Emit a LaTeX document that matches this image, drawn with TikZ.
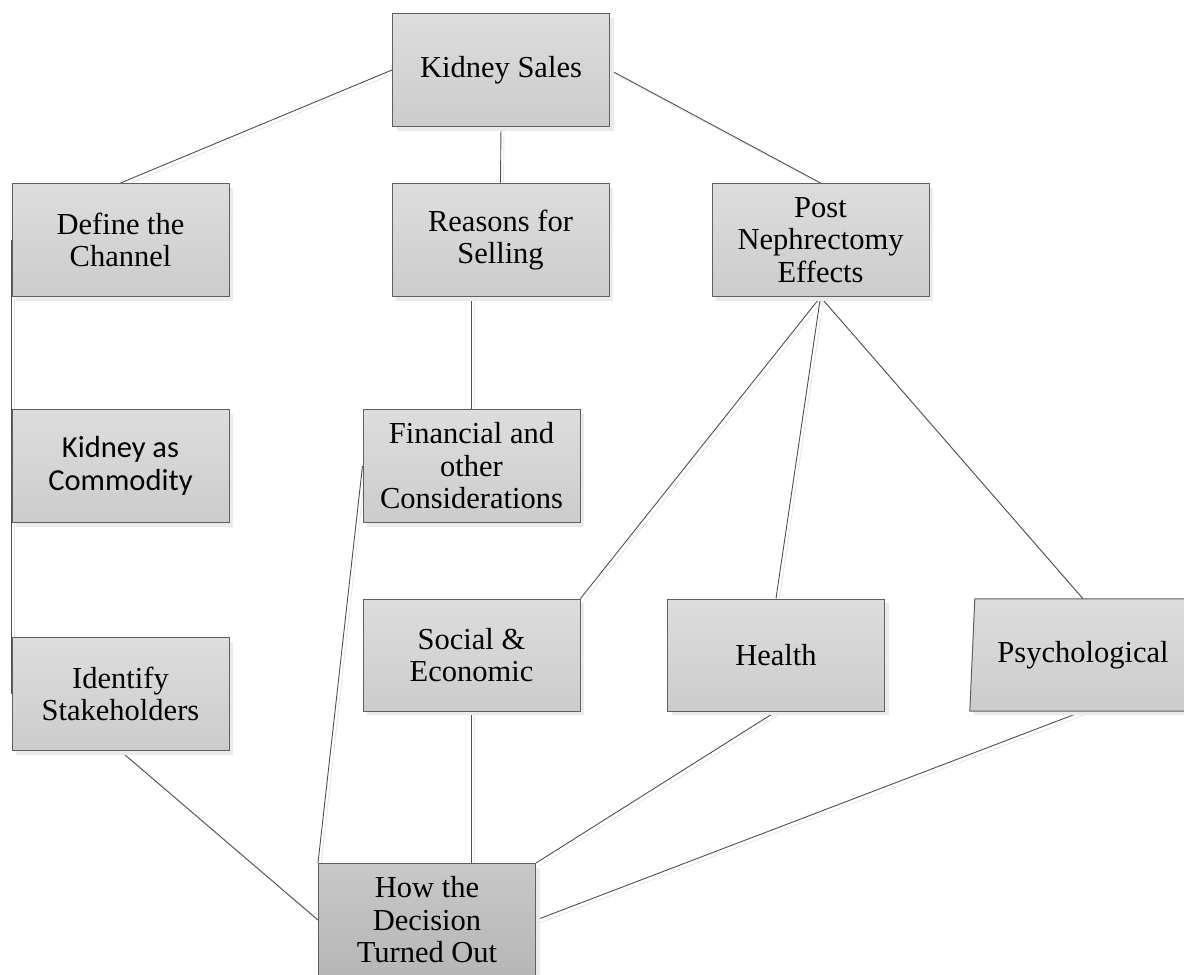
\documentclass[tikz,border=0pt]{standalone}
\usepackage{fontspec}
\setmainfont{Liberation Serif}
\newfontfamily\calibrifont{Carlito}
\usetikzlibrary{positioning,shadows,backgrounds,calc}
\definecolor{boxtop}{RGB}{221,221,221}
\definecolor{boxbottom}{RGB}{204,204,204}
\definecolor{outcometop}{RGB}{200,200,200}
\definecolor{outcomebottom}{RGB}{182,182,182}
\definecolor{boxline}{RGB}{95,95,95}
\definecolor{linkcolor}{RGB}{80,80,80}
\tikzset{
topic box/.style={rectangle,draw=boxline,line width=1pt,top color=boxtop,bottom color=boxbottom,
  minimum width=217pt,minimum height=113pt,inner sep=0pt,align=center,
  drop shadow={shadow xshift=4pt,shadow yshift=-4pt,fill=black!8,opacity=1}},
outcome box/.style={topic box,top color=outcometop,bottom color=outcomebottom},
bare box/.style={rectangle,minimum width=216pt,minimum height=112pt,inner sep=0pt,align=center},
link/.style={draw=linkcolor,line width=0.9pt,
  preaction={draw=black!9,line width=0.9pt,transform canvas={xshift=3pt,yshift=-3pt}}},
}
\tikzstyle{every node}=[font=\fontsize{30.5}{32.5}\selectfont]

\begin{document}
\begin{tikzpicture}[x=1pt,y=-1pt]
        \useasboundingbox (0,0) rectangle (1184,975);
        \clip (0,0) rectangle (1184,975);

        \node[topic box] (sales) at (501,70) {Kidney Sales};
        \node[topic box] (define) at (120.5,240) {Define the\\Channel};
        \node[topic box] (reasons) at (500.5,240) {Reasons for\\Selling};
        \node[topic box] (post) at (820.5,240) {Post\\Nephrectomy\\Effects};
        \node[topic box,font=\calibrifont\fontsize{30.5}{32.5}\selectfont] (commodity) at (120.5,466) {Kidney as\\Commodity};
        \node[topic box] (financial) at (471.5,466) {Financial and\\other\\Considerations};
        \node[topic box] (stakeholders) at (120.5,694) {Identify\\Stakeholders};
        \node[topic box,minimum height=112pt] (social) at (471.5,655) {Social \&\\Economic};
        \node[topic box,minimum height=112pt] (health) at (776,655) {Health};

        \node[bare box] (psych) at (1083,655) {};
        \fill[black!8] ([shift={(4pt,-4pt)}]psych.north west) -- ([shift={(4pt,-4pt)}]psych.north east)
        -- ([shift={(4pt,-4pt)}]psych.south east) -- ([shift={(-1pt,-4pt)}]psych.south west) -- cycle;
        \draw[boxline,line width=1pt,top color=boxtop,bottom color=boxbottom]
        (psych.north west) -- (psych.north east) -- (psych.south east)
        -- ([xshift=-5pt]psych.south west) -- cycle;
        \node at (psych) {Psychological};

        \node[outcome box] (decision) at (427,920) {How the\\Decision\\Turned Out};

        \begin{scope}[on background layer]
        \draw[link] (sales.west) -- (define.north);
        \draw[link] (sales.south) -- (reasons.north);
        \draw[link] (sales.east) -- (post.north);
        \draw[link] (define.west) -- (stakeholders.west);
        \draw[link] (financial.north |- reasons.south) -- (financial.north);
        \draw[link] (financial.west) -- (decision.north west);
        \draw[link] (post.south) -- (social.north east);
        \draw[link] (post.south) -- (health.north);
        \draw[link] (post.south) -- (psych.north);
        \draw[link] (stakeholders.south) -- (decision.west);
        \draw[link] (social.south) -- (social.south |- decision.north);
        \draw[link] (health.south) -- (decision.north east);
        \draw[link] (psych.south) -- (decision.east);
        \end{scope}
\end{tikzpicture}
\end{document}
